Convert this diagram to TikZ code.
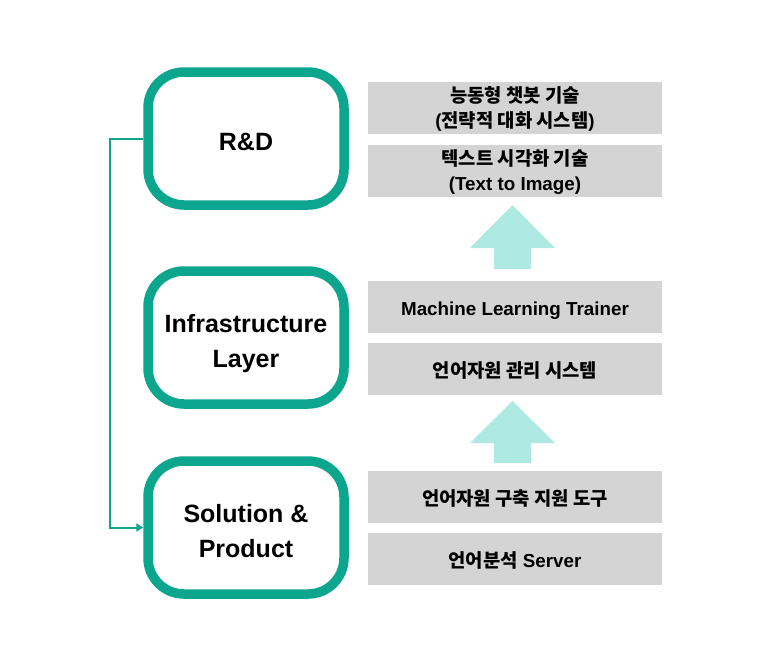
\documentclass[tikz,border=0pt]{standalone}
\usepackage{fontspec}
\setmainfont{Liberation Sans}
\newfontfamily\kr{Noto Sans CJK KR}
\usepackage{tikz}
\usetikzlibrary{
	arrows.meta
}
\definecolor{teal1}{RGB}{12,166,143}
\definecolor{mint1}{RGB}{174,234,225}
\definecolor{gray1}{RGB}{212,212,212}
\newcommand{\lowbox}[2]{%
	\raisebox{-#1}[\height][\depth]{\begin{tabular}{@{}c@{}}%
		#2%
	\end{tabular}}%
}
\tikzset{
	layer/.style={draw=teal1,line width=9.5pt,rounded corners=36pt,fill=white,
		minimum width=196pt,minimum height=133pt,align=center,
		font=\fontsize{25}{35}\selectfont\bfseries},
	item/.style={fill=gray1,minimum width=294pt,minimum height=52pt,inner sep=0pt,
		align=center,font=\fontsize{18.8}{25}\selectfont\bfseries},
	uparrow/.style={fill=mint1,draw=none},
	link/.style={draw=teal1,line width=2pt,-{Triangle[width=8pt,length=7pt]}}
}

\begin{document}
\begin{tikzpicture}[x=1pt,y=-1pt]
			\useasboundingbox (0,0) rectangle (770,667);

			\node[layer] (rd)    at (246,138.5) {\lowbox{5pt}{R\&D}};
			\node[layer] (infra) at (246,337.5) {\lowbox{5pt}{Infrastructure\\Layer}};
			\node[layer] (sol)   at (246,527.5) {\lowbox{5pt}{Solution \&\\Product}};

			\node[item] (b1) at (515,108)   {\lowbox{2pt}{{\kr 능동형 챗봇 기술}\\({\kr 전략적 대화 시스템})}};
			\node[item] (b2) at (515,170.5) {\lowbox{2pt}{{\kr 텍스트 시각화 기술}\\(Text to Image)}};
			\node[item] (b3) at (515,307)   {\lowbox{3pt}{Machine Learning Trainer}};
			\node[item] (b4) at (515,369)   {\lowbox{3pt}{\kr 언어자원 관리 시스템}};
			\node[item] (b5) at (515,497)   {\lowbox{3pt}{\kr 언어자원 구축 지원 도구}};
			\node[item] (b6) at (515,559)   {\lowbox{3pt}{{\kr 언어분석} Server}};

			\fill[uparrow] (512.5,205) -- (555,248) -- (531,248) -- (531,269)
				-- (494,269) -- (494,248) -- (470,248) -- cycle;
			\fill[uparrow] (512.5,401) -- (555,443) -- (531,443) -- (531,463)
				-- (494,463) -- (494,443) -- (470,443) -- cycle;

			\draw[link] (rd.west) -- ++(-33,0) |- (sol.west);
		\end{tikzpicture}
\end{document}
